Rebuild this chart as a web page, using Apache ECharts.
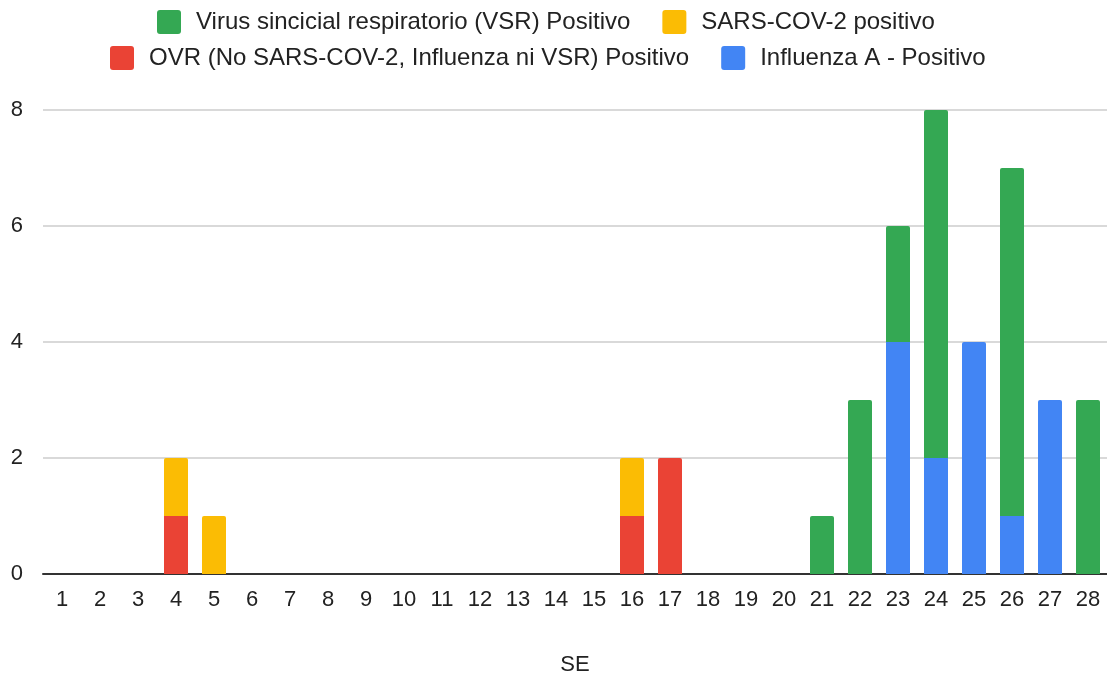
<!DOCTYPE html>
<html>
<head>
<meta charset="utf-8">
<script src="https://cdn.jsdelivr.net/npm/echarts@6/dist/echarts.min.js"></script>
<style>html,body{margin:0;padding:0;background:#fff}#c{width:1107px;height:677px}</style>
</head>
<body>
<div id="c"></div>
<script>
const categories = ['1','2','3','4','5','6','7','8','9','10','11','12','13','14','15','16','17','18','19','20','21','22','23','24','25','26','27','28'];
const fluA = [0,0,0,0,0,0,0,0,0,0,0,0,0,0,0,0,0,0,0,0,0,0,4,2,4,1,3,0];
const ovr  = [0,0,0,1,0,0,0,0,0,0,0,0,0,0,0,1,2,0,0,0,0,0,0,0,0,0,0,0];
const sars = [0,0,0,1,1,0,0,0,0,0,0,0,0,0,0,1,0,0,0,0,0,0,0,0,0,0,0,0];
const vsr  = [0,0,0,0,0,0,0,0,0,0,0,0,0,0,0,0,0,0,0,0,1,3,2,6,0,6,0,3];
const yTicks = [0,2,4,6,8];

const names = {
  vsr: 'Virus sincicial respiratorio (VSR) Positivo',
  sars: 'SARS-COV-2 positivo',
  ovr: 'OVR (No SARS-COV-2, Influenza ni VSR) Positivo',
  flu: 'Influenza A - Positivo'
};
const colors = {vsr:'#34a853', sars:'#fbbc04', ovr:'#ea4335', flu:'#4285f4'};

// stacking order bottom -> top
const stackOrder = [['flu', fluA], ['ovr', ovr], ['sars', sars], ['vsr', vsr]];

function buildData(idx) {
  const arr = stackOrder[idx][1];
  return arr.map((v, i) => {
    if (!v) return v;
    let isTop = true;
    for (let k = idx + 1; k < stackOrder.length; k++) if (stackOrder[k][1][i]) isTop = false;
    return isTop ? {value: v, itemStyle: {borderRadius: [2,2,0,0]}} : v;
  });
}

const font = 'Arial, "Liberation Sans", sans-serif';
const series = stackOrder.map((s, idx) => ({
  name: names[s[0]],
  type: 'bar',
  stack: 'total',
  barWidth: 24,
  itemStyle: {color: colors[s[0]]},
  data: buildData(idx)
}));

const iconPath = 'path://M3,0 H21 Q24,0 24,3 V21 Q24,24 21,24 H3 Q0,24 0,21 V3 Q0,0 3,0 Z';
const legendText = {fontSize: 24, color: '#222', fontFamily: font, padding: [0,0,0,10]};
const chart = echarts.init(document.getElementById('c'), null, {renderer: 'canvas'});
chart.setOption({
  animation: false,
  textStyle: {fontFamily: font},
  legend: [
    {data: [names.vsr, names.sars], top: 10, left: 157, padding: 0, itemWidth: 24, itemHeight: 24, itemGap: 32,
     icon: iconPath, textStyle: legendText},
    {data: [names.ovr, names.flu], top: 46, left: 110, padding: 0, itemWidth: 24, itemHeight: 24, itemGap: 32,
     icon: iconPath, textStyle: legendText}
  ],
  grid: {left: 43, right: 0, top: 110, bottom: 103, containLabel: false, outerBoundsMode: 'none'},
  xAxis: {
    type: 'category',
    data: categories,
    name: 'SE',
    nameLocation: 'middle',
    nameGap: 80,
    nameTextStyle: {fontSize: 22, color: '#222', fontFamily: font},
    axisLine: {lineStyle: {color: '#333', width: 2}},
    axisTick: {show: false},
    axisLabel: {fontSize: 22, color: '#222', margin: 15, interval: 0, fontFamily: font}
  },
  yAxis: {
    type: 'value',
    min: yTicks[0],
    max: yTicks[yTicks.length - 1],
    interval: 2,
    axisLine: {show: false},
    axisTick: {show: false},
    splitLine: {lineStyle: {color: '#cccccc', width: 1.5}},
    axisLabel: {fontSize: 22, color: '#222', margin: 20, fontFamily: font}
  },
  series: series
});
</script>
</body>
</html>
